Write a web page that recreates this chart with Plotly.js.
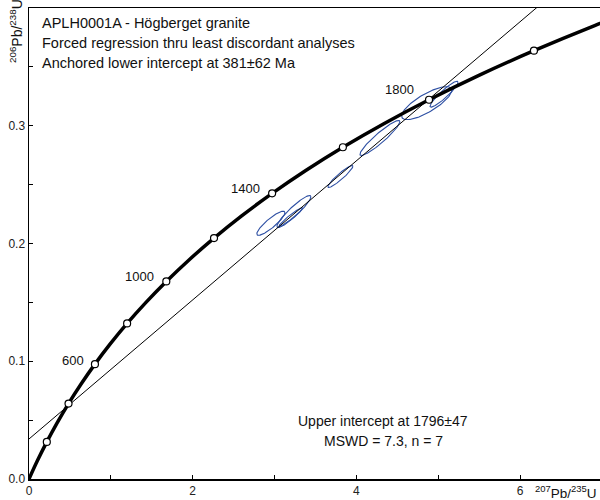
<!DOCTYPE html>
<html><head><meta charset="utf-8">
<script src="https://cdn.plot.ly/plotly-3.0.1.min.js"></script>
<style>html,body{margin:0;padding:0;overflow:hidden;background:#fff}#chart{width:640px;height:500px}</style>
</head><body><div id="chart"></div>
<script>
// Concordia curve points (age in Ma, 207Pb/235U, 206Pb/238U)
const concAges = [0,100,200,300,400,500,600,700,800,900,1000,1100,1200,1300,1400,1500,1600,1700,1800,1900,2000,2100,2200];
const concX = [0,0.1035,0.2177,0.3438,0.4828,0.6363,0.8056,0.9925,1.1987,1.4263,1.6774,1.9545,2.2603,2.5977,2.9701,3.3810,3.8344,4.3348,4.8869,5.4962,6.1685,6.9105,7.7292];
const concY = [0,0.01563,0.03151,0.04764,0.06402,0.08065,0.09754,0.11470,0.13213,0.14982,0.16780,0.18604,0.20459,0.22343,0.24257,0.26201,0.28173,0.30177,0.32210,0.34276,0.36375,0.38509,0.40676];
// Age markers
const markerAges = [200,400,600,800,1000,1200,1400,1600,1800,2000];
const labeledAges = [600,1000,1400,1800];
// Discordia intercepts
const interceptAges = [381,1796];
const interceptX = [0.4553,4.8638];
const interceptY = [0.06088,0.32127];
// Error ellipses: centre, half-widths, correlation
const ellCx  = [2.955,3.236,3.199,3.804,4.287,4.858,5.070];
const ellCy  = [0.2172,0.2272,0.2225,0.2569,0.2896,0.3192,0.3268];
const ellSx  = [0.172,0.208,0.145,0.153,0.2445,0.3056,0.171];
const ellSy  = [0.01025,0.01359,0.00796,0.00934,0.01486,0.01401,0.0110];
const ellRho = [0.879,0.924,0.963,0.935,0.932,0.782,0.925];
// Ticks
const xTickVals = [0,2,4,6];
const xTickText = ['0','2','4','6'];
const xMinorVals = [1,3,5,7];
const yTickVals = [0,0.1,0.2,0.3];
const yTickText = ['0.0','0.1','0.2','0.3'];
const yMinorVals = [0.05,0.15,0.25,0.35];

const FONT = 'Liberation Sans, Arial, sans-serif';

// ellipses
const ex = [], ey = [];
for (let i = 0; i < ellCx.length; i++) {
  const r = ellRho[i], q = Math.sqrt(1 - r*r);
  for (let k = 0; k <= 120; k++) {
    const t = 2*Math.PI*k/120;
    ex.push(ellCx[i] + ellSx[i]*Math.cos(t));
    ey.push(ellCy[i] + ellSy[i]*(r*Math.cos(t) + q*Math.sin(t)));
  }
  ex.push(null); ey.push(null);
}
// discordia through both intercepts, extended across the axis
const slope = (interceptY[1]-interceptY[0])/(interceptX[1]-interceptX[0]);
const x0 = 0, x1 = 8;
const discX = [x0, x1];
const discY = [interceptY[0] + slope*(x0-interceptX[0]), interceptY[0] + slope*(x1-interceptX[0])];

const mIdx = markerAges.map(a => concAges.indexOf(a));
const markerX = mIdx.map(i => concX[i]);
const markerY = mIdx.map(i => concY[i]);

const traces = [
  {x: ex, y: ey, mode: 'lines', line: {color: '#2d4fa3', width: 1.1}, hoverinfo: 'skip'},
  {x: discX, y: discY, mode: 'lines', line: {color: '#000', width: 1}, hoverinfo: 'skip'},
  {x: concX, y: concY, mode: 'lines', line: {color: '#000', width: 3.5, shape: 'spline'}, hoverinfo: 'skip'},
  {x: markerX, y: markerY, mode: 'markers', marker: {size: 7, color: '#fff', line: {color: '#000', width: 1.2}}}
];

const labelShift = {600: [-9, 4], 1000: [-10, 5], 1400: [-10, 5], 1800: [-13, 10]};
const annotations = labeledAges.map(a => {
  const i = concAges.indexOf(a);
  return {x: concX[i], y: concY[i], xref: 'x', yref: 'y', text: String(a), showarrow: false,
    xanchor: 'right', yanchor: 'middle', xshift: labelShift[a][0], yshift: labelShift[a][1],
    font: {family: FONT, size: 13, color: '#111'}};
});

const W = 573, H = 471, L = 29, B = 479;
const px = p => (p - L)/W, py = p => (B - p)/H;
const topLines = ['APLH0001A - Högberget granite', 'Forced regression thru least discordant analyses', 'Anchored lower intercept at 381±62 Ma'];
topLines.forEach((t, k) => annotations.push({xref: 'paper', yref: 'paper', x: px(40), y: py(23 + 20*k), text: t,
  showarrow: false, xanchor: 'left', yanchor: 'middle', font: {family: FONT, size: 14.5, color: '#111'}}));
const botLines = ['Upper intercept at ' + interceptAges[1] + '±47', 'MSWD = 7.3, n = 7'];
botLines.forEach((t, k) => annotations.push({xref: 'paper', yref: 'paper', x: px(383), y: py(421 + 20*k), text: t,
  showarrow: false, xanchor: 'center', yanchor: 'middle', font: {family: FONT, size: 14, color: '#111'}}));
annotations.push({xref: 'paper', yref: 'paper', x: px(16), y: py(31), text: '<sup>206</sup>Pb/<sup>238</sup>U',
  textangle: -90, showarrow: false, xanchor: 'center', yanchor: 'middle', font: {family: FONT, size: 14, color: '#111'}});
annotations.push({xref: 'paper', yref: 'paper', x: px(599), y: py(492), text: '<sup>207</sup>Pb/<sup>235</sup>U',
  showarrow: false, xanchor: 'right', yanchor: 'middle', font: {family: FONT, size: 13.5, color: '#111'}});

const axisCommon = {ticks: 'inside', ticklen: 4, tickwidth: 1, tickcolor: '#000', showline: true, linecolor: '#000',
  linewidth: 1.5, mirror: true, showgrid: false, zeroline: false, tickfont: {family: FONT, size: 12, color: '#222'}, tickmode: 'array'};

const layout = {
  width: 640, height: 500, margin: {l: 29, r: 38, t: 8, b: 21, pad: 0},
  paper_bgcolor: '#fff', plot_bgcolor: '#fff', showlegend: false,
  font: {family: FONT},
  xaxis: Object.assign({}, axisCommon, {range: [0, 7], tickvals: xTickVals, ticktext: xTickText,
    minor: {tickmode: 'array', tickvals: xMinorVals, ticks: 'inside', ticklen: 4, tickcolor: '#000', showgrid: false}}),
  yaxis: Object.assign({}, axisCommon, {range: [0, 0.4], tickvals: yTickVals, ticktext: yTickText,
    minor: {tickmode: 'array', tickvals: yMinorVals, ticks: 'inside', ticklen: 4, tickcolor: '#000', showgrid: false}}),
  annotations: annotations
};
Plotly.newPlot('chart', traces, layout, {staticPlot: true, displayModeBar: false});
</script></body></html>
